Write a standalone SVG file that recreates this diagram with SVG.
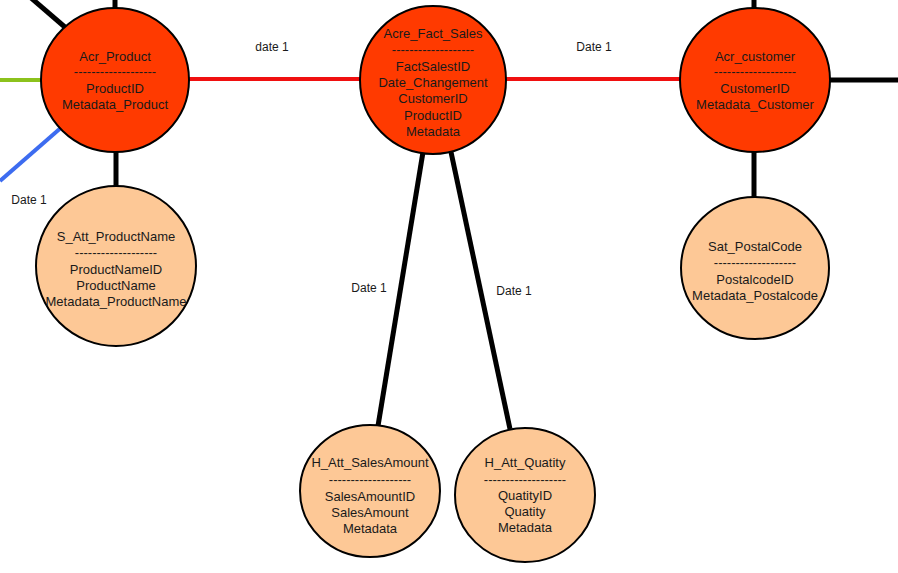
<svg xmlns="http://www.w3.org/2000/svg" width="898" height="573" viewBox="0 0 898 573">
<style>
text{font-family:"Liberation Sans",Arial,sans-serif;font-size:13px;fill:#1a1a1a;text-anchor:middle}
.lbl{font-size:12px}
.hub{fill:#FF3A00;stroke:#000;stroke-width:2}
.sat{fill:#FDC896;stroke:#000;stroke-width:2}
.k{stroke:#000;stroke-width:5;fill:none}
.r{stroke:#F01010;stroke-width:4;fill:none}
</style>
<rect width="898" height="573" fill="#fff"/>
<g id="connectors">
<line class="k" x1="30" y1="-3" x2="66" y2="28"/>
<line x1="0" y1="80" x2="42" y2="80" stroke="#8CC21C" stroke-width="4"/>
<line x1="0" y1="181" x2="63" y2="126" stroke="#3D6CF0" stroke-width="4"/>
<line class="k" x1="115" y1="0" x2="115" y2="8"/>
<line class="k" x1="116" y1="152" x2="116" y2="187"/>
<line class="r" x1="189" y1="79" x2="361" y2="79"/>
<line class="r" x1="505" y1="79" x2="681" y2="79"/>
<line class="k" x1="754" y1="0" x2="754" y2="8"/>
<line class="k" x1="754" y1="152" x2="754" y2="198"/>
<line class="k" x1="829" y1="80" x2="898" y2="80"/>
<line class="k" x1="423" y1="152" x2="378" y2="426"/>
<line class="k" x1="451" y1="152" x2="510" y2="429"/>
<text class="lbl" x="272" y="51">date 1</text>
<text class="lbl" x="594" y="51">Date 1</text>
<text class="lbl" x="29" y="204">Date 1</text>
<text class="lbl" x="369" y="292">Date 1</text>
<text class="lbl" x="514" y="295">Date 1</text>
</g>
<g id="acr_product">
<ellipse class="hub" cx="115" cy="80" rx="74" ry="72"/>
<text x="115" y="61">Acr_Product</text>
<text x="115" y="76">-------------------</text>
<text x="115" y="93">ProductID</text>
<text x="115" y="109">Metadata_Product</text>
</g>
<g id="acre_fact_sales">
<ellipse class="hub" cx="433" cy="80" rx="73" ry="74"/>
<text x="433" y="38">Acre_Fact_Sales</text>
<text x="433" y="54">-------------------</text>
<text x="433" y="71">FactSalestID</text>
<text x="433" y="87">Date_Changement</text>
<text x="433" y="103">CustomerID</text>
<text x="433" y="120">ProductID</text>
<text x="433" y="136">Metadata</text>
</g>
<g id="acr_customer">
<ellipse class="hub" cx="755" cy="80" rx="75" ry="72"/>
<text x="755" y="61">Acr_customer</text>
<text x="755" y="76">-------------------</text>
<text x="755" y="93">CustomerID</text>
<text x="755" y="109">Metadata_Customer</text>
</g>
<g id="s_att_productname">
<ellipse class="sat" cx="116" cy="266" rx="80" ry="80"/>
<text x="116" y="241">S_Att_ProductName</text>
<text x="116" y="257">-------------------</text>
<text x="116" y="274">ProductNameID</text>
<text x="116" y="290">ProductName</text>
<text x="116" y="306">Metadata_ProductName</text>
</g>
<g id="sat_postalcode">
<ellipse class="sat" cx="755" cy="268" rx="74" ry="71"/>
<text x="755" y="251">Sat_PostalCode</text>
<text x="755" y="267">-------------------</text>
<text x="755" y="284">PostalcodeID</text>
<text x="755" y="300">Metadata_Postalcode</text>
</g>
<g id="h_att_salesamount">
<ellipse class="sat" cx="370" cy="491" rx="70" ry="66"/>
<text x="370" y="467">H_Att_SalesAmount</text>
<text x="370" y="484">-------------------</text>
<text x="370" y="501">SalesAmountID</text>
<text x="370" y="517">SalesAmount</text>
<text x="370" y="533">Metadata</text>
</g>
<g id="h_att_quatity">
<ellipse class="sat" cx="525" cy="495" rx="70" ry="67"/>
<text x="525" y="467">H_Att_Quatity</text>
<text x="525" y="484">-------------------</text>
<text x="525" y="500">QuatityID</text>
<text x="525" y="516">Quatity</text>
<text x="525" y="532">Metadata</text>
</g>
</svg>
